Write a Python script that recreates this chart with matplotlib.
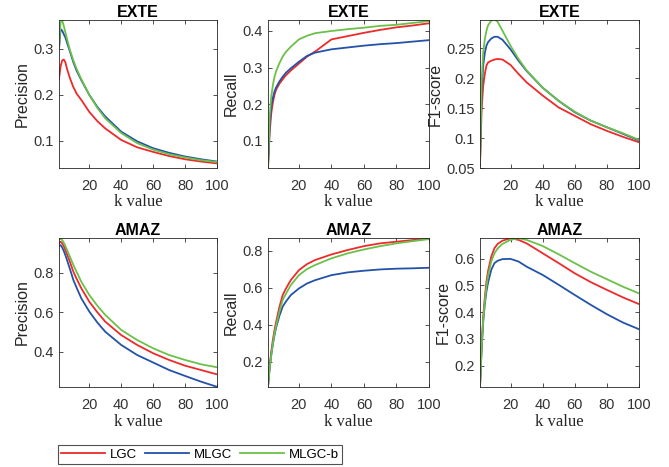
import matplotlib
matplotlib.use('Agg')
import matplotlib.pyplot as plt
from matplotlib.ticker import FuncFormatter

k = [1, 2, 3, 4, 5, 6, 8, 10, 12, 15, 20, 25, 30, 40, 50, 60, 70, 80, 90, 100]

# EXTE
exte_prec_lgc = [0.235, 0.262, 0.275, 0.277, 0.271, 0.257, 0.235, 0.217, 0.203, 0.189, 0.163, 0.143, 0.127, 0.102, 0.086, 0.076, 0.067, 0.060, 0.055, 0.051]
exte_prec_mlgc = [0.300, 0.343, 0.340, 0.332, 0.325, 0.314, 0.293, 0.271, 0.253, 0.232, 0.200, 0.174, 0.153, 0.120, 0.099, 0.084, 0.074, 0.066, 0.060, 0.055]
exte_prec_mlgcb = [0.300, 0.358, 0.362, 0.350, 0.336, 0.322, 0.296, 0.275, 0.257, 0.234, 0.200, 0.172, 0.149, 0.117, 0.095, 0.081, 0.071, 0.064, 0.058, 0.054]

exte_rec_lgc = [0.025, 0.121, 0.175, 0.205, 0.226, 0.240, 0.256, 0.268, 0.279, 0.292, 0.311, 0.330, 0.344, 0.377, 0.386, 0.395, 0.403, 0.410, 0.415, 0.421]
exte_rec_mlgc = [0.030, 0.139, 0.194, 0.218, 0.235, 0.246, 0.262, 0.275, 0.286, 0.298, 0.316, 0.332, 0.341, 0.350, 0.355, 0.360, 0.364, 0.367, 0.371, 0.375]
exte_rec_mlgcb = [0.030, 0.166, 0.221, 0.252, 0.275, 0.290, 0.312, 0.330, 0.343, 0.357, 0.377, 0.387, 0.394, 0.400, 0.405, 0.409, 0.414, 0.417, 0.422, 0.427]

exte_f1_lgc = [0.054, 0.148, 0.187, 0.207, 0.221, 0.226, 0.229, 0.231, 0.232, 0.231, 0.222, 0.207, 0.193, 0.171, 0.151, 0.137, 0.123, 0.112, 0.102, 0.093]
exte_f1_mlgc = [0.059, 0.176, 0.221, 0.242, 0.254, 0.260, 0.266, 0.269, 0.269, 0.264, 0.248, 0.229, 0.212, 0.184, 0.162, 0.143, 0.129, 0.118, 0.107, 0.096]
exte_f1_mlgcb = [0.059, 0.193, 0.243, 0.265, 0.279, 0.288, 0.296, 0.298, 0.294, 0.279, 0.254, 0.232, 0.213, 0.184, 0.162, 0.144, 0.129, 0.118, 0.108, 0.097]

# AMAZ
amaz_prec_lgc = [0.952, 0.957, 0.949, 0.935, 0.915, 0.895, 0.852, 0.805, 0.770, 0.721, 0.653, 0.600, 0.552, 0.484, 0.434, 0.392, 0.358, 0.329, 0.307, 0.285]
amaz_prec_mlgc = [0.935, 0.940, 0.928, 0.910, 0.889, 0.865, 0.815, 0.763, 0.725, 0.670, 0.603, 0.548, 0.501, 0.434, 0.383, 0.345, 0.307, 0.277, 0.248, 0.222]
amaz_prec_mlgcb = [0.969, 0.971, 0.966, 0.952, 0.935, 0.916, 0.878, 0.839, 0.805, 0.754, 0.687, 0.633, 0.586, 0.510, 0.459, 0.417, 0.383, 0.358, 0.336, 0.321]

amaz_rec_lgc = [0.065, 0.173, 0.254, 0.318, 0.371, 0.415, 0.495, 0.560, 0.595, 0.641, 0.695, 0.728, 0.750, 0.780, 0.804, 0.825, 0.840, 0.849, 0.858, 0.865]
amaz_rec_mlgc = [0.065, 0.164, 0.236, 0.295, 0.344, 0.385, 0.448, 0.497, 0.525, 0.560, 0.596, 0.623, 0.641, 0.668, 0.683, 0.692, 0.699, 0.703, 0.705, 0.708]
amaz_rec_mlgcb = [0.065, 0.164, 0.236, 0.298, 0.353, 0.395, 0.470, 0.533, 0.567, 0.614, 0.668, 0.701, 0.723, 0.759, 0.786, 0.807, 0.825, 0.840, 0.852, 0.863]

amaz_f1_lgc = [0.121, 0.271, 0.383, 0.455, 0.514, 0.553, 0.607, 0.639, 0.655, 0.667, 0.676, 0.670, 0.657, 0.620, 0.583, 0.545, 0.512, 0.483, 0.455, 0.430]
amaz_f1_mlgc = [0.121, 0.265, 0.364, 0.430, 0.477, 0.510, 0.558, 0.583, 0.592, 0.598, 0.599, 0.589, 0.570, 0.539, 0.502, 0.464, 0.427, 0.392, 0.361, 0.336]
amaz_f1_mlgcb = [0.121, 0.265, 0.371, 0.440, 0.495, 0.535, 0.589, 0.620, 0.638, 0.655, 0.670, 0.676, 0.670, 0.647, 0.616, 0.583, 0.551, 0.523, 0.495, 0.470]

methods = ['LGC', 'MLGC', 'MLGC-b']
colors = ['#ee2a2a', '#2352a8', '#6cc04a']

panels = [
    ('EXTE', 'Precision', [exte_prec_lgc, exte_prec_mlgc, exte_prec_mlgcb], (0.041, 0.363), [0.1, 0.2, 0.3]),
    ('EXTE', 'Recall', [exte_rec_lgc, exte_rec_mlgc, exte_rec_mlgcb], (0.026, 0.43), [0.1, 0.2, 0.3, 0.4]),
    ('EXTE', 'F1-score', [exte_f1_lgc, exte_f1_mlgc, exte_f1_mlgcb], (0.05, 0.297), [0.05, 0.1, 0.15, 0.2, 0.25]),
    ('AMAZ', 'Precision', [amaz_prec_lgc, amaz_prec_mlgc, amaz_prec_mlgcb], (0.221, 0.976), [0.4, 0.6, 0.8]),
    ('AMAZ', 'Recall', [amaz_rec_lgc, amaz_rec_mlgc, amaz_rec_mlgcb], (0.063, 0.869), [0.2, 0.4, 0.6, 0.8]),
    ('AMAZ', 'F1-score', [amaz_f1_lgc, amaz_f1_mlgc, amaz_f1_mlgcb], (0.12, 0.677), [0.2, 0.3, 0.4, 0.5, 0.6]),
]

W, H = 669, 467
lefts = [59, 268, 480]
rights = [217, 429, 639]
tops = [20, 238]
bottoms = [168, 387]

fig = plt.figure(figsize=(W / 100, H / 100), dpi=100)
dark = '#262626'
lines = []
for i, (title, ylab, series, ylim, yticks) in enumerate(panels):
    r, c = divmod(i, 3)
    ax = fig.add_axes([lefts[c] / W, 1 - bottoms[r] / H,
                       (rights[c] - lefts[c]) / W, (bottoms[r] - tops[r]) / H])
    for vals, col, name in zip(series, colors, methods):
        ln, = ax.plot(k, vals, color=col, lw=1.3, label=name)
        if i == 0:
            lines.append(ln)
    ax.set_xlim(1, 100)
    ax.set_ylim(*ylim)
    ax.set_xticks([20, 40, 60, 80, 100])
    ax.set_yticks(yticks)
    ax.yaxis.set_major_formatter(FuncFormatter(lambda v, p: '%g' % v))
    ax.tick_params(direction='in', top=True, right=True, length=3, width=0.6,
                   labelsize=10.5, colors='#333333', pad=3.5)
    ax.tick_params(axis='x', pad=8)
    for lab in ax.get_xticklabels() + ax.get_yticklabels():
        lab.set_family('Liberation Sans')
    for s in ax.spines.values():
        s.set_linewidth(0.6)
        s.set_color(dark)
    ax.set_title(title, fontsize=11.5, fontweight='bold', family='Liberation Sans', pad=2)
    ax.set_ylabel(ylab, fontsize=11.5, family='Liberation Sans', color=dark, labelpad=3)
    ax.set_xlabel('k value', fontsize=12, family='Liberation Serif', color=dark, labelpad=1)

leg = fig.legend(lines, methods, loc='lower left', bbox_to_anchor=(58 / W, 1 - 464 / H),
                 ncol=3, frameon=True, fancybox=False, edgecolor=dark,
                 prop={'family': 'Liberation Sans', 'size': 9.5},
                 handlelength=3.3, columnspacing=0.6, handletextpad=0.4,
                 borderpad=0.25, borderaxespad=0)
leg.get_frame().set_linewidth(0.8)

fig.savefig('out.png', dpi=100)
